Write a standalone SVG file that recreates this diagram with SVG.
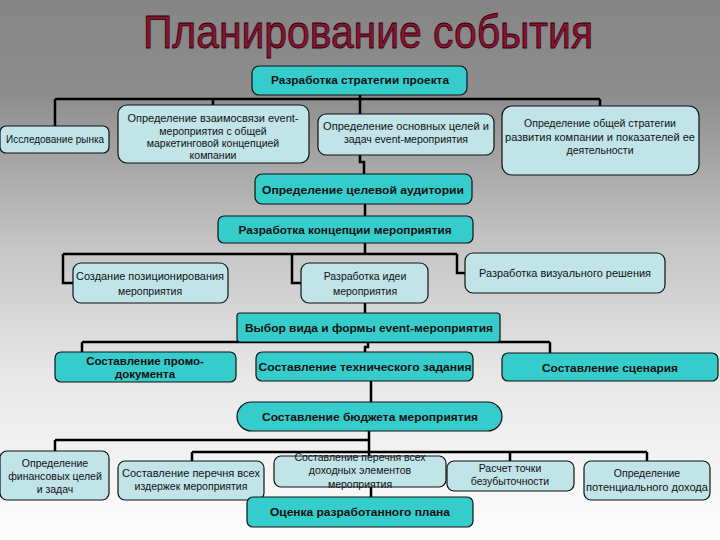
<svg xmlns="http://www.w3.org/2000/svg" width="720" height="540" viewBox="0 0 720 540">
<defs>
<linearGradient id="bg" x1="0" y1="0" x2="0" y2="1">
<stop offset="0" stop-color="#858585"/>
<stop offset="0.18" stop-color="#8e8e8e"/>
<stop offset="0.45" stop-color="#c4c4c4"/>
<stop offset="0.7" stop-color="#e8e8e8"/>
<stop offset="1" stop-color="#fdfdfd"/>
</linearGradient>
<style>
.teal{fill:#36cccc;stroke:#111;stroke-width:1.2}
.lite{fill:#c0e4e7;stroke:#111;stroke-width:1.2}
.tb{font-family:"Liberation Sans",Arial,sans-serif;font-weight:bold;font-size:11.5px;fill:#111;text-anchor:middle}
.tl{font-family:"Liberation Sans",Arial,sans-serif;font-size:10.5px;fill:#111;text-anchor:middle}
.con{fill:none;stroke:#000;stroke-width:2.5}
.title{font-family:"Liberation Sans",Arial,sans-serif;font-size:46px;fill:#8c1230;stroke:#2a0008;stroke-width:0.8;text-anchor:middle}
</style>
</defs>
<rect width="720" height="540" fill="url(#bg)"/>
<text class="title" x="368" y="48" textLength="450" lengthAdjust="spacingAndGlyphs">Планирование события</text>

<g id="connectors">
<path class="con" d="M360 95 V99 M55 99 H600 M55 99 V126 M213 99 V105 M360 99 V115 M600 99 V106"/>
<path class="con" d="M360 155 V162 H364 V174"/>
<path class="con" d="M365 204 V216"/>
<path class="con" d="M365 243 V254 M63 254 H457 M63 254 V283 H73 M292 254 V283 H301 M457 254 V273 H465"/>
<path class="con" d="M365 303 V313"/>
<path class="con" d="M82 342 H550 M82 342 V352 M550 342 V353 M368 342 V347 H365 V352"/>
<path class="con" d="M371 381 V402"/>
<path class="con" d="M369 431 V456 M55 440 H369 M55 440 V451 M192 452 H647 M192 452 V461 M510 452 V461 M647 452 V461"/>
<path class="con" d="M371 487 V497"/>
</g>

<g id="n1"><rect class="teal" x="252" y="66" width="215" height="29" rx="7"/><text class="tb" x="360" y="84" textLength="178" lengthAdjust="spacingAndGlyphs">Разработка стратегии проекта</text></g>

<g id="n2"><rect class="lite" x="0" y="126" width="109" height="27" rx="6"/><text class="tl" x="55" y="143" font-size="9.5" textLength="98" lengthAdjust="spacingAndGlyphs">Исследование рынка</text></g>

<g id="n3"><rect class="lite" x="118" y="105" width="191" height="58" rx="9"/>
<text class="tl" x="213" y="122" textLength="171" lengthAdjust="spacingAndGlyphs">Определение взаимосвязи event-</text>
<text class="tl" x="213" y="135">мероприятия с общей</text>
<text class="tl" x="213" y="147">маркетинговой концепцией</text>
<text class="tl" x="213" y="159">компании</text></g>

<g id="n4"><rect class="lite" x="318" y="114" width="176" height="41" rx="8"/>
<text class="tl" x="406" y="130" textLength="166" lengthAdjust="spacingAndGlyphs">Определение основных целей и</text>
<text class="tl" x="406" y="143">задач event-мероприятия</text></g>

<g id="n5"><rect class="lite" x="502" y="106" width="197" height="69" rx="10"/>
<text class="tl" x="600" y="127">Определение общей стратегии</text>
<text class="tl" x="600" y="141" textLength="190" lengthAdjust="spacingAndGlyphs">развития компании и показателей ее</text>
<text class="tl" x="600" y="154">деятельности</text></g>

<g id="n6"><rect class="teal" x="255" y="174" width="217" height="30" rx="7"/><text class="tb" x="363" y="194" textLength="202" lengthAdjust="spacingAndGlyphs">Определение целевой аудитории</text></g>

<g id="n7"><rect class="teal" x="218" y="216" width="255" height="27" rx="6"/><text class="tb" x="345" y="234" textLength="213" lengthAdjust="spacingAndGlyphs">Разработка концепции мероприятия</text></g>

<g id="n8"><rect class="lite" x="73" y="263" width="155" height="40" rx="8"/>
<text class="tl" x="150" y="280" textLength="148" lengthAdjust="spacingAndGlyphs">Создание позиционирования</text>
<text class="tl" x="150" y="295">мероприятия</text></g>

<g id="n9"><rect class="lite" x="301" y="263" width="127" height="40" rx="8"/>
<text class="tl" x="365" y="280">Разработка идеи</text>
<text class="tl" x="365" y="295">мероприятия</text></g>

<g id="n10"><rect class="lite" x="465" y="253" width="200" height="40" rx="8"/>
<text class="tl" x="565" y="277" textLength="172" lengthAdjust="spacingAndGlyphs">Разработка визуального решения</text></g>

<g id="n11"><rect class="teal" x="237" y="313" width="263" height="29" rx="3"/><text class="tb" x="369" y="332" textLength="248" lengthAdjust="spacingAndGlyphs">Выбор вида и формы event-мероприятия</text></g>

<g id="n12"><rect class="teal" x="55" y="352" width="181" height="30" rx="6"/>
<text class="tb" x="145" y="365">Составление промо-</text>
<text class="tb" x="145" y="378">документа</text></g>

<g id="n13"><rect class="teal" x="256" y="352" width="217" height="29" rx="6"/><text class="tb" x="365" y="371" textLength="213" lengthAdjust="spacingAndGlyphs">Составление технического задания</text></g>

<g id="n14"><rect class="teal" x="502" y="353" width="216" height="28" rx="6"/><text class="tb" x="610" y="372" textLength="136" lengthAdjust="spacingAndGlyphs">Составление сценария</text></g>

<g id="n15"><rect class="teal" x="237" y="402" width="265" height="29" rx="14.5"/><text class="tb" x="370" y="421" textLength="216" lengthAdjust="spacingAndGlyphs">Составление бюджета мероприятия</text></g>

<g id="n16"><rect class="lite" x="0" y="451" width="109" height="49" rx="7"/>
<text class="tl" x="55" y="467">Определение</text>
<text class="tl" x="55" y="480">финансовых целей</text>
<text class="tl" x="55" y="493">и задач</text></g>

<g id="n17"><rect class="lite" x="118" y="461" width="146" height="39" rx="7"/>
<text class="tl" x="191" y="477" textLength="138" lengthAdjust="spacingAndGlyphs">Составление перечня всех</text>
<text class="tl" x="191" y="490">издержек мероприятия</text></g>

<g id="n18"><rect class="lite" x="274" y="456" width="172" height="31" rx="7"/>
<text class="tl" x="360" y="461">Составление перечня всех</text>
<text class="tl" x="360" y="474">доходных элементов</text>
<text class="tl" x="360" y="488">мероприятия</text></g>

<g id="n19"><rect class="teal" x="247" y="497" width="226" height="30" rx="6"/><text class="tb" x="360" y="516" textLength="180" lengthAdjust="spacingAndGlyphs">Оценка разработанного плана</text></g>

<g id="n20"><rect class="lite" x="447" y="461" width="127" height="30" rx="7"/>
<text class="tl" x="510" y="472">Расчет точки</text>
<text class="tl" x="510" y="485">безубыточности</text></g>

<g id="n21"><rect class="lite" x="584" y="461" width="126" height="39" rx="7"/>
<text class="tl" x="647" y="477">Определение</text>
<text class="tl" x="647" y="491" textLength="122" lengthAdjust="spacingAndGlyphs">потенциального дохода</text></g>
</svg>
